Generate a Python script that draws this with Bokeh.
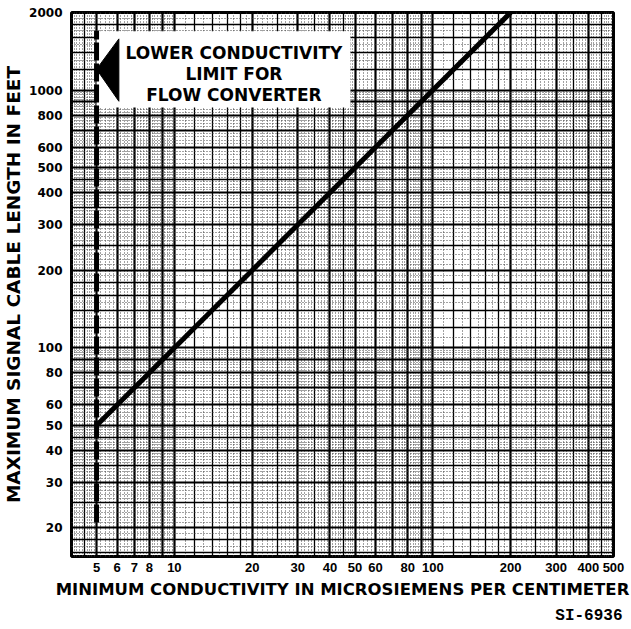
from bokeh.plotting import figure
from bokeh.models import Range1d, FixedTicker, Grid, NumeralTickFormatter, Title
from bokeh.core.properties import value
from bokeh.embed import file_html
from bokeh.resources import INLINE

# ---- data ----
cable_x = [5, 200]          # conductivity (microsiemens/cm)
cable_y = [50, 2000]        # max cable length (feet)
limit_x = [5, 5]
limit_y = [21, 1700]
x_ticks = [5, 6, 7, 8, 10, 20, 30, 40, 50, 60, 80, 100, 200, 300, 400, 500]
y_ticks = [20, 30, 40, 50, 60, 80, 100, 200, 300, 400, 500, 600, 800, 1000, 2000]
note_text = "LOWER CONDUCTIVITY\nLIMIT FOR\nFLOW CONVERTER"
note_box = dict(left=[5], right=[48], top=[1690], bottom=[855])
note_pos = dict(x=[17.0], y=[1150])
arrow_x = [5.0, 6.1, 6.1]
arrow_y = [1205, 1580, 905]

p = figure(width=630, height=628, x_axis_type="log", y_axis_type="log",
           x_range=Range1d(4, 500), y_range=Range1d(15.5, 2000),
           output_backend="svg", toolbar_location=None,
           min_border_left=70, min_border_right=17, min_border_top=12,
           min_border_bottom=70, background_fill_color="white",
           border_fill_color="white")

p.xgrid.visible = False
p.ygrid.visible = False

decades = [1, 10, 100, 1000]
heavy = [k * d for d in decades for k in range(1, 10)]
medium = [m * d for d in decades for m in (1.2, 1.4, 1.6, 1.8, 2.5, 3.5, 4.5)]
fine = [round(v / 10, 1) * d for d in decades
        for v in list(range(11, 50)) + list(range(52, 100, 2))
        if v % 10 != 0]

for dim in (0, 1):
    p.add_layout(Grid(dimension=dim, ticker=FixedTicker(ticks=fine),
                      grid_line_color="#444444", grid_line_width=1,
                      grid_line_dash="1 2"))
    p.add_layout(Grid(dimension=dim, ticker=FixedTicker(ticks=medium),
                      grid_line_color="black", grid_line_width=1.3))
    p.add_layout(Grid(dimension=dim, ticker=FixedTicker(ticks=heavy),
                      grid_line_color="black", grid_line_width=2.2))

p.outline_line_color = "black"
p.outline_line_width = 3

# annotation box
p.quad(**note_box, fill_color="white", line_color=None)
p.text(**note_pos, text=[note_text], text_align="center", text_baseline="middle",
       text_font=value("DejaVu Sans"), text_font_style="bold",
       text_font_size="17px", text_line_height=1.05, text_color="black")
p.patch(arrow_x, arrow_y, fill_color="black", line_color="black")

p.line(limit_x, limit_y, line_color="black", line_width=5, line_dash="18 3")
p.line(cable_x, cable_y, line_color="black", line_width=5)

for ax in (p.xaxis[0], p.yaxis[0]):
    ax.major_tick_line_color = None
    ax.minor_tick_line_color = None
    ax.axis_line_color = None
    ax.major_label_text_font_style = "bold"
    ax.major_label_text_color = "black"
    ax.axis_label_text_font = "DejaVu Sans"
    ax.axis_label_text_font_style = "bold"
    ax.axis_label_text_color = "black"
    ax.formatter = NumeralTickFormatter(format="0")

p.xaxis.major_label_text_font = "Liberation Sans"
p.xaxis.major_label_text_font_size = "13px"
p.yaxis.major_label_text_font = "DejaVu Sans"
p.yaxis.major_label_text_font_size = "12px"
p.xaxis.ticker = FixedTicker(ticks=x_ticks)
p.yaxis.ticker = FixedTicker(ticks=y_ticks)
p.xaxis.axis_label = "MINIMUM CONDUCTIVITY IN MICROSIEMENS PER CENTIMETER"
p.yaxis.axis_label = "MAXIMUM SIGNAL CABLE LENGTH IN FEET"
p.xaxis.axis_label_text_font_size = "16.5px"
p.yaxis.axis_label_text_font_size = "18.5px"
p.xaxis.major_label_standoff = 0
p.yaxis.major_label_standoff = 3
p.xaxis.axis_label_standoff = 5
p.yaxis.axis_label_standoff = 2

p.add_layout(Title(text="SI-6936", align="right", text_font="Liberation Mono",
                   text_font_size="16px", text_font_style="bold",
                   text_color="black", standoff=7, offset=-9), "below")

open("out.html", "w").write(file_html(p, INLINE))
